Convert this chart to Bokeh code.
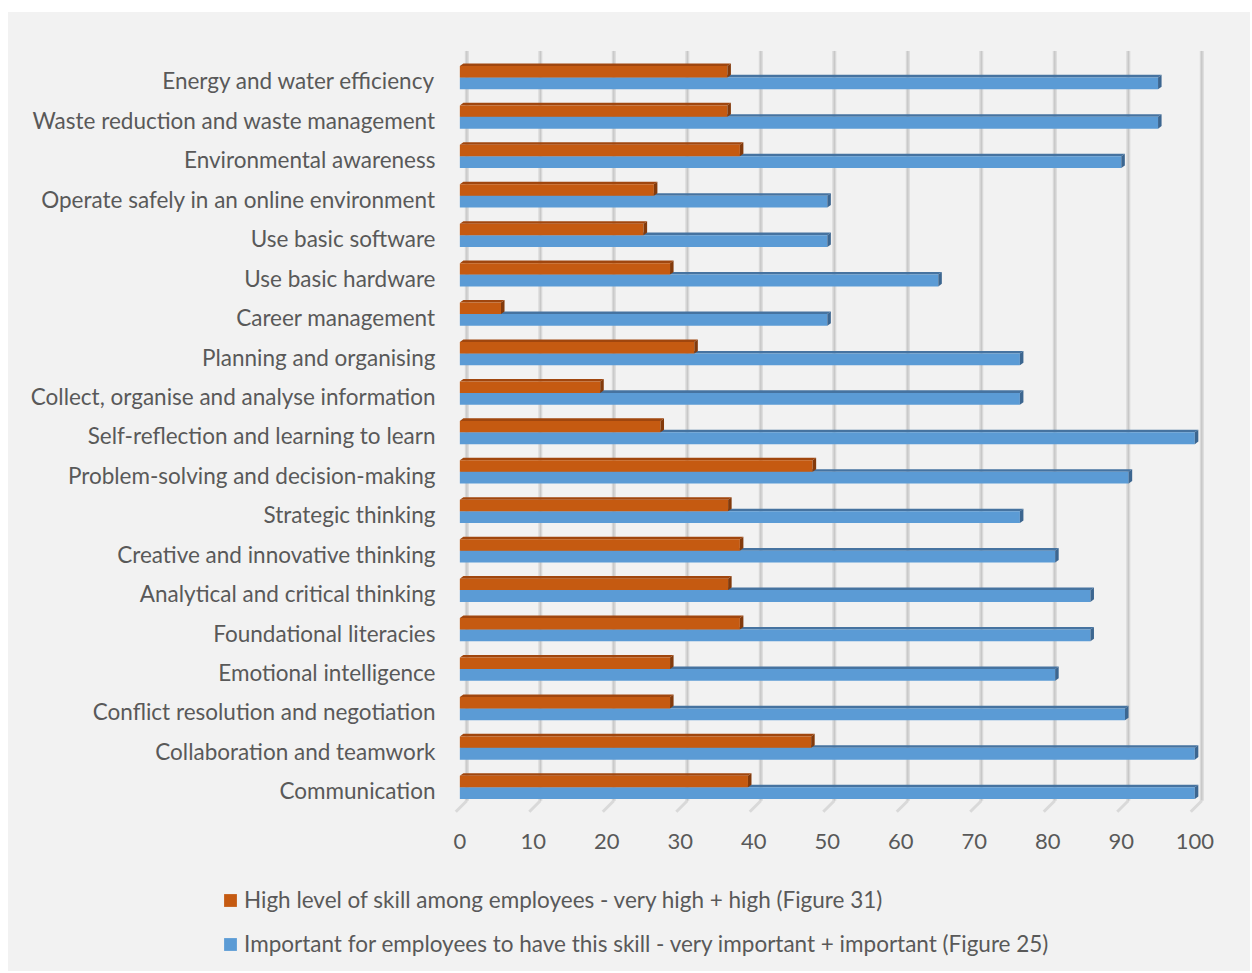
import numpy as np
from bokeh.plotting import figure
from bokeh.models import Legend, LegendItem, FixedTicker, Spacer, Range1d
from bokeh.layouts import column, row
from bokeh.embed import file_html
from bokeh.resources import INLINE

# ---- data (bottom to top as drawn) ----
categories = [
    "Communication",
    "Collaboration and teamwork",
    "Conflict resolution and negotiation",
    "Emotional intelligence",
    "Foundational literacies",
    "Analytical and critical thinking",
    "Creative and innovative thinking",
    "Strategic thinking",
    "Problem-solving and decision-making",
    "Self-reflection and learning to learn",
    "Collect, organise and analyse information",
    "Planning and organising",
    "Career management",
    "Use basic hardware",
    "Use basic software",
    "Operate safely in an online environment",
    "Environmental awareness",
    "Waste reduction and waste management",
    "Energy and water efficiency",
]
skill_level = [39.2, 47.8, 28.6, 28.6, 38.1, 36.5, 38.1, 36.5, 48.0, 27.3,
               19.1, 31.9, 5.6, 28.6, 25.0, 26.4, 38.1, 36.4, 36.4]
importance = [100, 100, 90.5, 81.0, 85.8, 85.8, 81.0, 76.2, 91.0, 100,
              76.2, 76.2, 50, 65.1, 50, 50, 90.0, 95.0, 95.0]
x_ticks = [0, 10, 20, 30, 40, 50, 60, 70, 80, 90, 100]
series_labels = [
    "High level of skill among employees - very high + high (Figure 31)",
    "Important for employees to have this skill - very important + important (Figure 25)",
]

# ---- style ----
ORANGE, ORANGE_TOP, ORANGE_SIDE = "#c55a11", "#a0460e", "#833a0b"
BLUE, BLUE_TOP, BLUE_SIDE = "#5b9bd5", "#4673a0", "#3c6690"
TEXT, BG, GRID, GRID_DARK = "#595959", "#f2f2f2", "#d9d9d9", "#c4c4c4"
FONT = "Lato"
FS = "22.5px"
FS_TICK = "22px"
DX, DY = 0.48, 0.065           # 3-D depth of bars (data units)
WALL_DX = 0.95                 # back wall offset
O_BOT, O_TOP = 0.09, 0.38
B_BOT, B_TOP = -0.21, 0.09
W = 1242

n = len(categories)
ys = np.arange(n, dtype=float)

p = figure(width=W, height=865,
           x_range=Range1d(-1, 102), y_range=Range1d(-0.6, n),
           output_backend="svg", toolbar_location=None,
           min_border_left=444, min_border_right=41,
           min_border_top=29, min_border_bottom=63,
           background_fill_color=BG, border_fill_color=BG,
           outline_line_color=None)
p.frame_align = False
p.xgrid.visible = False
p.ygrid.visible = False

# back-wall gridlines and floor diagonals
gx = [t + WALL_DX for t in x_ticks]
p.segment(x0=gx, y0=[-0.25] * len(gx), x1=gx, y1=[n - 0.24] * len(gx),
          line_color=GRID, line_width=4)
p.segment(x0=gx, y0=[-0.25] * len(gx), x1=gx, y1=[n - 0.24] * len(gx),
          line_color=GRID_DARK, line_width=1)
p.segment(x0=gx, y0=[-0.25] * len(gx), x1=[t - 0.55 for t in x_ticks],
          y1=[-0.53] * len(gx), line_color=GRID, line_width=3)


def bar3d(values, bot, top, front, topc, side):
    b = ys + bot
    t = ys + top
    # top face
    p.patches(xs=[[0, v, v + DX, DX] for v in values],
              ys=[[tt, tt, tt + DY, tt + DY] for tt in t],
              fill_color=topc, line_color=None)
    r = p.quad(left=0, right=values, bottom=b, top=t,
               fill_color=front, line_color=None)
    # side face
    p.patches(xs=[[v, v + DX, v + DX, v] for v in values],
              ys=[[bb, bb + DY, tt + DY, tt] for bb, tt in zip(b, t)],
              fill_color=side, line_color=None)
    return r


r_blue = bar3d(importance, B_BOT, B_TOP, BLUE, BLUE_TOP, BLUE_SIDE)
r_orange = bar3d(skill_level, O_BOT, O_TOP, ORANGE, ORANGE_TOP, ORANGE_SIDE)

# axes
p.xaxis.ticker = FixedTicker(ticks=x_ticks)
p.xaxis.axis_line_color = None
p.xaxis.major_tick_line_color = None
p.xaxis.minor_tick_line_color = None
p.xaxis.major_label_text_font = FONT
p.xaxis.major_label_text_font_size = FS_TICK
p.xaxis.major_label_text_color = TEXT
p.xaxis.major_label_standoff = 13

p.yaxis.ticker = FixedTicker(ticks=list(range(n)))
p.yaxis.major_label_overrides = {i: c for i, c in enumerate(categories)}
p.yaxis.axis_line_color = None
p.yaxis.major_tick_line_color = None
p.yaxis.minor_tick_line_color = None
p.yaxis.major_label_text_font = FONT
p.yaxis.major_label_text_font_size = FS
p.yaxis.major_label_text_color = TEXT
p.yaxis.major_label_standoff = 11

# ---- legend strip (same chart area, below the axis) ----
pl = figure(width=W, height=94, x_range=Range1d(0, 1), y_range=Range1d(0, 1),
            output_backend="svg", toolbar_location=None,
            min_border_left=0, min_border_right=0, min_border_top=0,
            min_border_bottom=0, x_axis_location=None, y_axis_location=None,
            background_fill_color=BG, border_fill_color=BG,
            outline_line_color=None)
pl.frame_align = False
pl.xgrid.visible = False
pl.ygrid.visible = False
# zero-area swatch glyphs that carry the series colours for the legend
lg_o = pl.quad(left=[0], right=[0], bottom=[0], top=[0], fill_color=ORANGE, line_color=None)
lg_b = pl.quad(left=[0], right=[0], bottom=[0], top=[0], fill_color=BLUE, line_color=None)
legend = Legend(items=[LegendItem(label=series_labels[0], renderers=[lg_o]),
                       LegendItem(label=series_labels[1], renderers=[lg_b])],
                location=(214, 14), orientation="vertical",
                label_text_font=FONT, label_text_font_size=FS,
                label_text_color=TEXT, glyph_width=16, glyph_height=16,
                label_standoff=6, spacing=17, padding=0, margin=0,
                border_line_color=None, background_fill_alpha=0)
pl.add_layout(legend)

chart = column(p, pl, styles={"background-color": BG})
layout = row(Spacer(width=8), column(Spacer(height=12), chart))
open("out.html", "w").write(file_html(layout, INLINE))
